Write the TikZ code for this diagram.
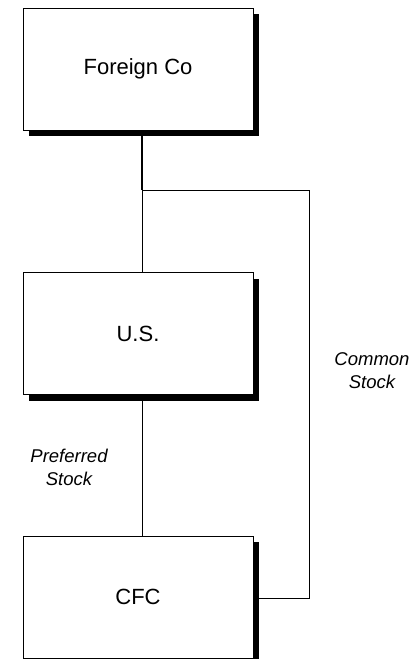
\documentclass[tikz,border=0pt]{standalone}
\usepackage{fontspec}
\setmainfont{Liberation Sans}
\usetikzlibrary{shadows,backgrounds}

\begin{document}
\begin{tikzpicture}[x=1pt, y=-1pt,
    entity/.style={draw, line width=1pt, fill=white, minimum width=230pt, minimum height=122pt,
      font=\fontsize{22}{26}\selectfont,
      drop shadow={shadow xshift=6pt, shadow yshift=-6pt, fill=black, opacity=1}},
    stocklabel/.style={align=center, font=\fontsize{18.5}{23}\selectfont\itshape}]
    \useasboundingbox (0,0) rectangle (411,659);
    % entities
    \node[entity] (foreign) at (138,69) {Foreign Co};
    \node[entity] (us) at (138,333.5) {U.S.};
    \node[entity] (cfc) at (138,597) {CFC};
    % ownership lines
    \coordinate (split) at (142,190);
    \coordinate (corner) at (309,598);
    \begin{scope}[on background layer]
      \draw[line width=2pt] (foreign.south -| split) -- (split);
      \draw[line width=1pt] (split) -- (us.north -| split);
      \draw[line width=1pt] (us.south -| split) -- (cfc.north -| split);
      \draw[line width=1pt] (split) -| (corner) -- (cfc.east |- corner);
    \end{scope}
    % labels
    \node[stocklabel] (pref) at (69,467) {Preferred\\Stock};
    \node[stocklabel] (common) at (372,371) {Common\\Stock};
\end{tikzpicture}
\end{document}
